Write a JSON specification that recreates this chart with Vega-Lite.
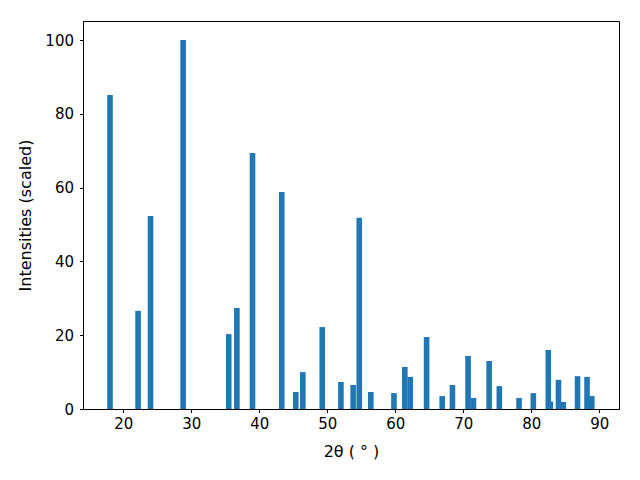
{
  "$schema": "https://vega.github.io/schema/vega-lite/v6.json",
  "width": 536,
  "height": 388,
  "autosize": {"type": "none"},
  "padding": {"left": 83, "top": 21, "right": 21, "bottom": 71},
  "background": "white",
  "config": {
    "font": "DejaVu Sans",
    "view": {"stroke": "black", "strokeWidth": 1},
    "axis": {
      "grid": false,
      "domainColor": "black",
      "tickColor": "black",
      "tickSize": 3.5,
      "labelFontSize": 15,
      "titleFontSize": 16,
      "labelColor": "black",
      "titleColor": "black",
      "titleFontWeight": "normal"
    }
  },
  "data": {
    "values": [
      {"two_theta": 18.04, "intensity": 85.1},
      {"two_theta": 22.17, "intensity": 26.6},
      {"two_theta": 24.0, "intensity": 52.3},
      {"two_theta": 28.8, "intensity": 100},
      {"two_theta": 35.5, "intensity": 20.3},
      {"two_theta": 36.7, "intensity": 27.4},
      {"two_theta": 39.0, "intensity": 69.4},
      {"two_theta": 43.3, "intensity": 58.8},
      {"two_theta": 45.36, "intensity": 4.6},
      {"two_theta": 46.4, "intensity": 10.0},
      {"two_theta": 49.26, "intensity": 22.2},
      {"two_theta": 52.0, "intensity": 7.3},
      {"two_theta": 53.8, "intensity": 6.5},
      {"two_theta": 54.7, "intensity": 51.8},
      {"two_theta": 56.4, "intensity": 4.6},
      {"two_theta": 59.8, "intensity": 4.3},
      {"two_theta": 61.4, "intensity": 11.4},
      {"two_theta": 62.2, "intensity": 8.7},
      {"two_theta": 64.6, "intensity": 19.5},
      {"two_theta": 66.9, "intensity": 3.5},
      {"two_theta": 68.4, "intensity": 6.5},
      {"two_theta": 70.7, "intensity": 14.4},
      {"two_theta": 71.5, "intensity": 3.0},
      {"two_theta": 73.8, "intensity": 13.0},
      {"two_theta": 75.3, "intensity": 6.2},
      {"two_theta": 78.2, "intensity": 3.0},
      {"two_theta": 80.3, "intensity": 4.3},
      {"two_theta": 82.5, "intensity": 16.0},
      {"two_theta": 82.8, "intensity": 2.0},
      {"two_theta": 84.0, "intensity": 7.9},
      {"two_theta": 84.7, "intensity": 1.9},
      {"two_theta": 86.8, "intensity": 8.9},
      {"two_theta": 88.2, "intensity": 8.7},
      {"two_theta": 88.9, "intensity": 3.5}
    ]
  },
  "mark": {"type": "bar", "color": "#1f77b4", "size": 5.6},
  "encoding": {
    "x": {
      "field": "two_theta",
      "type": "quantitative",
      "scale": {"domain": [14.07, 92.9], "nice": false, "zero": false, "padding": 0},
      "axis": {"values": [20, 30, 40, 50, 60, 70, 80, 90], "title": "2θ ( ° )", "labelPadding": 4, "titlePadding": 12}
    },
    "y": {
      "field": "intensity",
      "type": "quantitative",
      "scale": {"domain": [0, 105.15], "nice": false, "padding": 0},
      "axis": {"values": [0, 20, 40, 60, 80, 100], "title": "Intensities (scaled)", "labelPadding": 6, "titlePadding": 11}
    }
  }
}
